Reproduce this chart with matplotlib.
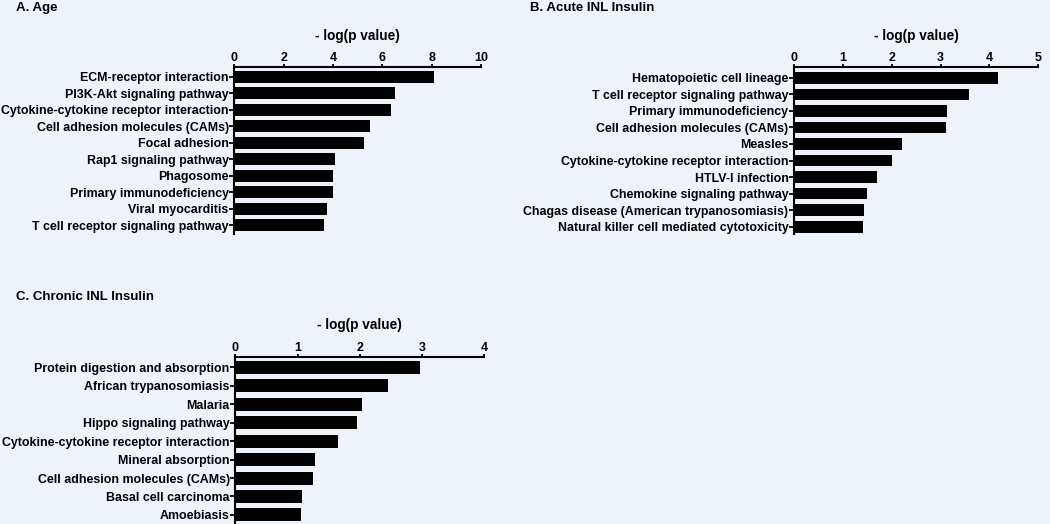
import matplotlib.pyplot as plt

plt.rcParams['font.family'] = ['Liberation Sans', 'DejaVu Sans']
plt.rcParams['font.weight'] = 'bold'

# Panel A: Age
age_terms = ["ECM-receptor interaction", "PI3K-Akt signaling pathway",
             "Cytokine-cytokine receptor interaction", "Cell adhesion molecules (CAMs)",
             "Focal adhesion", "Rap1 signaling pathway", "Phagosome",
             "Primary immunodeficiency", "Viral myocarditis", "T cell receptor signaling pathway"]
age_vals = [8.11, 6.51, 6.35, 5.51, 5.27, 4.07, 4.02, 4.0, 3.75, 3.65]

# Panel B: Acute INL Insulin
acute_terms = ["Hematopoietic cell lineage", "T cell receptor signaling pathway",
               "Primary immunodeficiency", "Cell adhesion molecules (CAMs)", "Measles",
               "Cytokine-cytokine receptor interaction", "HTLV-I infection",
               "Chemokine signaling pathway", "Chagas disease (American trypanosomiasis)",
               "Natural killer cell mediated cytotoxicity"]
acute_vals = [4.18, 3.59, 3.14, 3.11, 2.22, 2.01, 1.69, 1.49, 1.43, 1.41]

# Panel C: Chronic INL Insulin
chronic_terms = ["Protein digestion and absorption", "African trypanosomiasis", "Malaria",
                 "Hippo signaling pathway", "Cytokine-cytokine receptor interaction",
                 "Mineral absorption", "Cell adhesion molecules (CAMs)",
                 "Basal cell carcinoma", "Amoebiasis"]
chronic_vals = [2.96, 2.45, 2.04, 1.95, 1.65, 1.28, 1.25, 1.07, 1.05]

bg = '#eef2f9'
W, H = 1050, 524
fig = plt.figure(figsize=(10.5, 5.24), dpi=100, facecolor=bg)


def panel(rect_px, terms, vals, xmax, step, ylim):
    x0, x1, y0, y1 = rect_px
    ax = fig.add_axes([x0 / W, 1 - y1 / H, (x1 - x0) / W, (y1 - y0) / H])
    ax.set_facecolor(bg)
    ax.barh(range(len(vals)), vals, height=0.7, color='black')
    ax.set_xlim(0, xmax)
    ax.set_ylim(*ylim)
    ax.set_yticks(range(len(terms)))
    ax.set_yticklabels(terms, fontsize=8.9, fontweight='bold')
    ax.set_xticks([i * step for i in range(int(round(xmax / step)) + 1)])
    ax.xaxis.tick_top()
    ax.tick_params(axis='x', labelsize=9, width=1.3, length=2, pad=0)
    ax.tick_params(axis='y', width=1.3, length=3.5, pad=0.5)
    for lab in ax.get_xticklabels():
        lab.set_fontweight('bold')
    for s in ['right', 'bottom']:
        ax.spines[s].set_visible(False)
    for s in ['top', 'left']:
        ax.spines[s].set_linewidth(1.5)
    ax.annotate('- log(p value)', xy=(0.5, 1), xycoords='axes fraction',
                xytext=(0, 22.5), textcoords='offset points',
                ha='center', va='center', fontsize=9.8, fontweight='bold')
    return ax


panel((234.3, 481, 67, 234), age_terms, age_vals, 10, 2, (9.53, -0.59))
panel((794, 1038.3, 67, 234), acute_terms, acute_vals, 5, 1, (9.44, -0.65))
panel((235.3, 484.3, 356.7, 526), chronic_terms, chronic_vals, 4, 1, (8.6, -0.58))

fig.text(16 / W, 1 - 8 / H, 'A. Age', fontsize=9.5, fontweight='bold', va='center')
fig.text(530 / W, 1 - 8 / H, 'B. Acute INL Insulin', fontsize=9.5, fontweight='bold', va='center')
fig.text(16 / W, 1 - 297 / H, 'C. Chronic INL Insulin', fontsize=9.5, fontweight='bold', va='center')

fig.savefig('out.png', dpi=100, facecolor=bg)
